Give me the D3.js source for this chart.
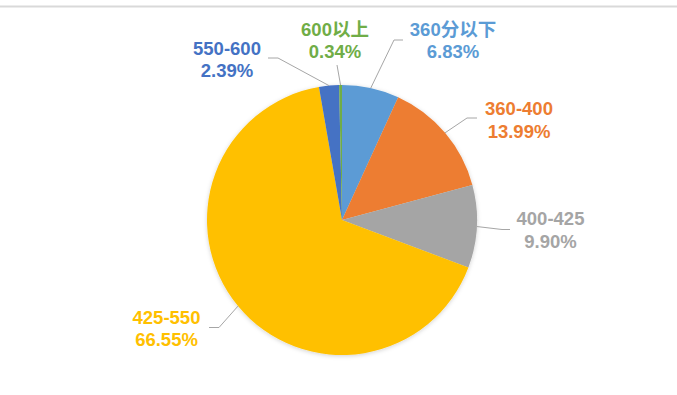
<!DOCTYPE html>
<html><head><meta charset="utf-8">
<script src="https://cdn.jsdelivr.net/npm/d3@7"></script>
<style>
html,body{margin:0;padding:0;background:#fff;}
svg{display:block;}
text{font-family:"Liberation Sans",Arial,"Noto Sans CJK SC",sans-serif;font-weight:bold;font-size:18.5px;}
</style></head>
<body>
<svg id="chart" width="677" height="395"></svg>
<script>
// Data
const categories = ["360分以下", "360-400", "400-425", "425-550", "550-600", "600以上"];
const percents = [6.83, 13.99, 9.90, 66.55, 2.39, 0.34];
const percentLabels = ["6.83%", "13.99%", "9.90%", "66.55%", "2.39%", "0.34%"];

// Styles / layout
const colors = ["#5B9BD5", "#ED7D31", "#A5A5A5", "#FFC000", "#4472C4", "#70AD47"];
const cx = 342, cy = 220, R = 135;
// label layout: text center x, first baseline, leader elbow/end points
const labelLayout = [
  {x: 453, b: 35.8, pts: [[394, 40], [403, 40]]},
  {x: 519, b: 115, pts: [[467, 118], [477, 118]]},
  {x: 550.5, b: 225, pts: [[502, 229.5], [510, 229.5]]},
  {x: 166.5, b: 323.5, pts: [[219, 327.5], [209, 327.5]]},
  {x: 227, b: 54.5, pts: [[278, 58], [268, 58]]},
  {x: 335, b: 35.8, pts: [[337, 65]]}
];

const svg = d3.select("#chart");

// top border line
svg.append("line").attr("x1", 0).attr("x2", 677).attr("y1", 6.5).attr("y2", 6.5)
  .attr("stroke", "#d9d9d9").attr("stroke-width", 2);

const defs = svg.append("defs");
const f = defs.append("filter").attr("id", "sh").attr("x", "-20%").attr("y", "-20%").attr("width", "140%").attr("height", "140%");
f.append("feDropShadow").attr("dx", 0).attr("dy", 1).attr("stdDeviation", 2)
  .attr("flood-color", "#000").attr("flood-opacity", 0.18);

const data = categories.map((c, i) => ({cat: c, v: percents[i], lab: percentLabels[i], i}));
const pie = d3.pie().value(d => d.v).sort(null);
const arcs = pie(data);
const arc = d3.arc().innerRadius(0).outerRadius(R);

const g = svg.append("g").attr("transform", `translate(${cx},${cy})`);
const pg = g.append("g").attr("filter", "url(#sh)");
pg.selectAll("path").data(arcs).join("path")
  .attr("d", arc).attr("fill", d => colors[d.data.i]);

// leader lines
const line = d3.line();
arcs.forEach(a => {
  const mid = (a.startAngle + a.endAngle) / 2;
  const sx = cx + R * Math.sin(mid), sy = cy - R * Math.cos(mid);
  const L = labelLayout[a.data.i];
  svg.append("path").attr("d", line([[sx, sy], ...L.pts]))
    .attr("fill", "none").attr("stroke", "#a6a6a6").attr("stroke-width", 1);
});

// labels
arcs.forEach(a => {
  const L = labelLayout[a.data.i];
  const t = svg.append("text").attr("text-anchor", "middle").attr("fill", colors[a.data.i]);
  t.append("tspan").attr("x", L.x).attr("y", L.b).text(a.data.cat);
  t.append("tspan").attr("x", L.x).attr("y", L.b + 22.5).text(a.data.lab);
});
</script>
</body></html>
